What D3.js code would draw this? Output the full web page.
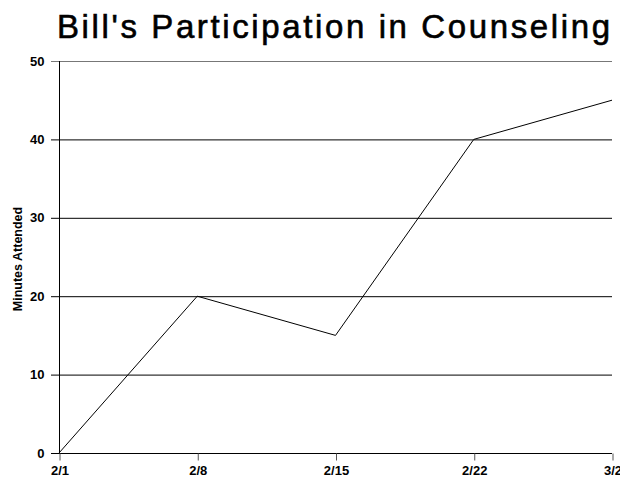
<!DOCTYPE html>
<html>
<head>
<meta charset="utf-8">
<script src="https://cdn.jsdelivr.net/npm/d3@7"></script>
<style>
  body { margin: 0; background: #fff; }
  svg { display: block; font-family: "Liberation Sans", Arial, sans-serif; }
</style>
</head>
<body>
<div class="svgWrapper"></div>
<script>
// Data //
const dates = ["2/1", "2/8", "2/15", "2/22", "3/2"];
const minutes = [0, 20, 15, 40, 45];
const yTicks = [0, 10, 20, 30, 40, 50];

// Styles //
const svgStyles = { w: 620, h: 483 };
const chartStyles = {
  margin: { top: 61, right: 8, bottom: 30, left: 59 }
};
chartStyles.w = svgStyles.w - chartStyles.margin.left - chartStyles.margin.right;
chartStyles.h = svgStyles.h - chartStyles.margin.top - chartStyles.margin.bottom;

let svg = d3
  .select(".svgWrapper")
  .append("svg")
  .attr("width", svgStyles.w)
  .attr("height", svgStyles.h);

// title
svg
  .append("text")
  .attr("x", 57)
  .attr("y", 38)
  .attr("text-anchor", "start")
  .attr("textLength", 553)
  .attr("lengthAdjust", "spacing")
  .attr("stroke", "#000")
  .attr("stroke-width", 0.6)
  .style("font-size", "33px")
  .text("Bill's Participation in Counseling");

// y axis title
svg
  .append("text")
  .attr("transform", `translate(22, ${chartStyles.margin.top + chartStyles.h / 2 + 2}) rotate(-90)`)
  .attr("text-anchor", "middle")
  .style("font-size", "12.5px")
  .style("font-weight", "bold")
  .text("Minutes Attended");

let chart = svg
  .append("g")
  .attr("transform", `translate(${chartStyles.margin.left}, ${chartStyles.margin.top})`);

const xScale = d3.scalePoint().domain(dates).range([0, chartStyles.w]);
const yScale = d3.scaleLinear().domain([0, 50]).range([chartStyles.h, 0]);

// grid lines
chart
  .selectAll(".grid")
  .data(yTicks)
  .enter()
  .append("line")
  .attr("class", "grid")
  .attr("x1", -8)
  .attr("x2", chartStyles.w)
  .attr("y1", d => yScale(d) + 0.5)
  .attr("y2", d => yScale(d) + 0.5)
  .attr("stroke", d => (d === 50 ? "#777" : "#000"))
  .attr("stroke-width", 1);

// y axis
const yAxis = d3.axisLeft(yScale).tickValues(yTicks).tickSize(8).tickPadding(7);
chart
  .append("g")
  .attr("transform", "translate(0.5, 0)")
  .call(yAxis)
  .call(g => g.select(".domain").remove())
  .call(g => g.selectAll(".tick line").remove())
  .call(g => g.selectAll("text")
    .style("font-size", "13px")
    .style("font-weight", "bold")
    .style("font-family", "'Liberation Sans', Arial, sans-serif")
    .attr("x", -15));

chart
  .append("line")
  .attr("x1", 0.5)
  .attr("x2", 0.5)
  .attr("y1", 0)
  .attr("y2", chartStyles.h + 0.5)
  .attr("stroke", "#000");

// x axis
const xAxis = d3.axisBottom(xScale).tickSize(7).tickPadding(5);
chart
  .append("g")
  .attr("transform", `translate(0.5, ${chartStyles.h + 0.5})`)
  .call(xAxis)
  .call(g => g.select(".domain").remove())
  .call(g => g.selectAll(".tick line").attr("stroke", "#555"))
  .call(g => g.selectAll("text")
    .style("font-size", "13px")
    .style("font-weight", "bold")
    .style("font-family", "'Liberation Sans', Arial, sans-serif")
    .attr("fill", "#000"));

// data line
const line = d3
  .line()
  .x((d, i) => xScale(dates[i]))
  .y(d => yScale(d));

chart
  .append("path")
  .datum(minutes)
  .attr("d", line)
  .attr("fill", "none")
  .attr("stroke", "#000")
  .attr("stroke-width", 1);
</script>
</body>
</html>
